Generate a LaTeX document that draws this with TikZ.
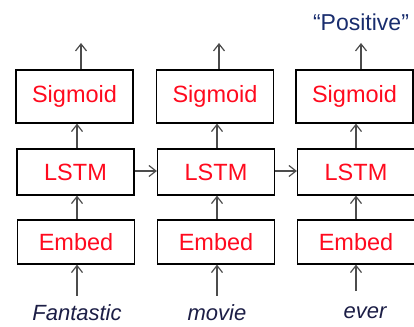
\documentclass[tikz,border=0pt]{standalone}
\usepackage{fontspec}
\setmainfont{Liberation Sans}
\usepackage{xcolor}
\definecolor{lstmred}{RGB}{255,10,30}
\definecolor{wordnavy}{RGB}{28,30,70}
\definecolor{outnavy}{RGB}{25,45,110}
\usetikzlibrary{arrows.meta,positioning}

\begin{document}
\begin{tikzpicture}[x=1pt,y=-1pt,
  box/.style={draw,line width=1.2pt,minimum width=117pt,inner sep=0pt,text=lstmred,font=\fontsize{23.5}{26}\selectfont},
  word/.style={font=\fontsize{22}{24}\selectfont\itshape,text=wordnavy,inner sep=1pt},
  link/.style={-{Straight Barb[length=7pt,width=11pt]},line width=1.2pt,black!70}]
  \useasboundingbox (0,0) rectangle (414,326);
  % top row
  \node[box,minimum height=53pt] (s1) at (74.5,96.5) {Sigmoid};
  \node[box,minimum height=53pt] (s2) at (215,96.5) {Sigmoid};
  \node[box,minimum height=53pt] (s3) at (354.5,96.5) {Sigmoid};
  % middle row
  \node[box,minimum height=46pt] (l1) at (75.5,172) {LSTM};
  \node[box,minimum height=46pt] (l2) at (216,172) {LSTM};
  \node[box,minimum height=46pt] (l3) at (356,172) {LSTM};
  % bottom row
  \node[box,minimum height=44pt] (e1) at (76,242) {Embed};
  \node[box,minimum height=44pt] (e2) at (216,242) {Embed};
  \node[box,minimum height=44pt] (e3) at (356,242) {Embed};
  % inputs and output
  \node[word] (w1) at (77,313) {Fantastic};
  \node[word] (w2) at (217,313) {movie};
  \node[word] (w3) at (365,313) {ever};
  \node[font=\fontsize{23}{25}\selectfont,text=outnavy,inner sep=1pt] (out) at (361,22) {“Positive”};
  \coordinate (o1) at (81,43);
  \coordinate (o2) at (219,43);
  \coordinate (o3) at (361,43);
  \draw[link] (w1.north -| e1.south) ++(1,-8) -- (e1.south -| 77,0);
  \draw[link] (w2.north) ++(0,-8) -- (e2.south -| 217,0);
  \draw[link] (356,291) -- (e3.south -| 356,0);
  \draw[link] (e1.north -| 77,0) -- (l1.south -| 77,0);
  \draw[link] (e2.north -| 217,0) -- (l2.south -| 217,0);
  \draw[link] (e3.north) -- (l3.south);
  \draw[link] (l1.north -| 77,0) -- (s1.south -| 77,0);
  \draw[link] (l2.north -| 217,0) -- (s2.south -| 217,0);
  \draw[link] (l3.north) -- (s3.south -| 356,0);
  \draw[link] (s1.north -| o1) -- (o1);
  \draw[link] (s2.north -| o2) -- (o2);
  \draw[link] (s3.north -| o3) -- (o3);
  \draw[link] (l1.east |- 0,171) -- (l2.west |- 0,171);
  \draw[link] (l2.east |- 0,171) -- (l3.west |- 0,171);
\end{tikzpicture}
\end{document}
